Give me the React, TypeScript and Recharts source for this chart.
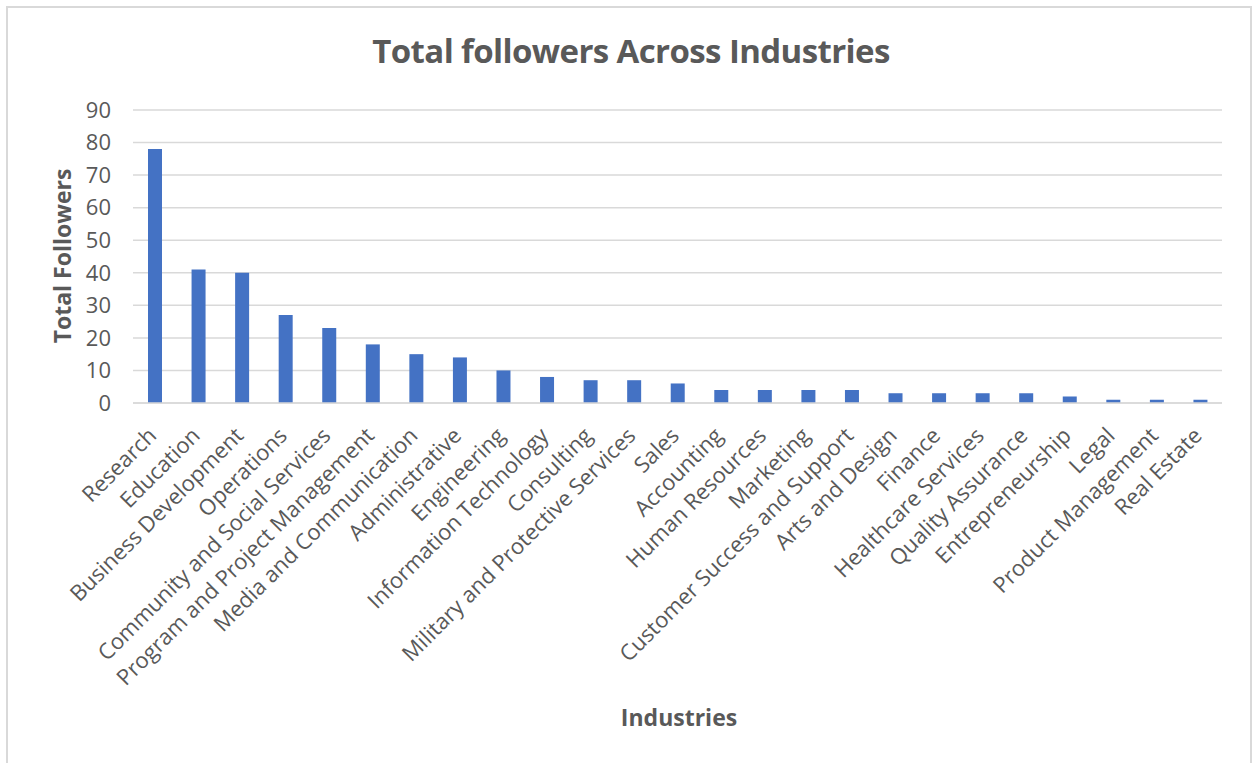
import { BarChart, Bar, XAxis, YAxis, CartesianGrid } from "recharts";

const industries = [
    "Research",
    "Education",
    "Business Development",
    "Operations",
    "Community and Social Services",
    "Program and Project Management",
    "Media and Communication",
    "Administrative",
    "Engineering",
    "Information Technology",
    "Consulting",
    "Military and Protective Services",
    "Sales",
    "Accounting",
    "Human Resources",
    "Marketing",
    "Customer Success and Support",
    "Arts and Design",
    "Finance",
    "Healthcare Services",
    "Quality Assurance",
    "Entrepreneurship",
    "Legal",
    "Product Management",
    "Real Estate",
];

const followers = [78, 41, 40, 27, 23, 18, 15, 14, 10, 8, 7, 7, 6, 4, 4, 4, 4, 3, 3, 3, 3, 2, 1, 1, 1];

const yTicks = [0, 10, 20, 30, 40, 50, 60, 70, 80, 90];

const data = industries.map((name, i) => ({ name, value: followers[i] }));

const FONT = "'Open Sans', sans-serif";
const GREY = "#595959";

function AngledTick(props: any) {
    const { x, y, payload } = props;
    const bx = x + 3;
    const by = y + 26;
    return (
        <text
            x={bx}
            y={by}
            transform={`rotate(-45, ${bx}, ${by})`}
            textAnchor="end"
            fill={GREY}
            fontSize={22}
            fontFamily={FONT}
        >
            {payload.value}
        </text>
    );
}

export default function App() {
    return (
        <div style={{ position: "absolute", left: 0, top: 0, width: 1254, height: 763, background: "#fff", overflow: "hidden" }}>
            <div
                style={{
                    position: "absolute",
                    left: 6,
                    top: 6,
                    width: 1242,
                    height: 820,
                    border: "2px solid #d9d9d9",
                }}
            />
            <div
                style={{
                    position: "absolute",
                    left: 0,
                    width: 1254,
                    top: 28,
                    textAlign: "center",
                    fontFamily: FONT,
                    fontWeight: 700,
                    fontSize: 33,
                    letterSpacing: -0.6,
                    color: GREY,
                    paddingLeft: 4,
                }}
            >
                Total followers Across Industries
            </div>
            <div
                style={{
                    position: "absolute",
                    left: 62,
                    top: 256,
                    transform: "translate(-50%, -50%) rotate(-90deg)",
                    fontFamily: FONT,
                    fontWeight: 700,
                    fontSize: 23,
                    color: GREY,
                    whiteSpace: "nowrap",
                }}
            >
                Total Followers
            </div>
            <div
                style={{
                    position: "absolute",
                    left: 679,
                    top: 717,
                    transform: "translate(-50%, -50%)",
                    fontFamily: FONT,
                    fontWeight: 700,
                    fontSize: 23,
                    color: GREY,
                    whiteSpace: "nowrap",
                }}
            >
                Industries
            </div>
            <div style={{ position: "absolute", left: 0, top: 0 }}>
                <BarChart
                    width={1254}
                    height={763}
                    data={data}
                    margin={{ top: 110, right: 32, bottom: 60, left: 0 }}
                    barSize={14}
                >
                    <CartesianGrid vertical={false} stroke="#d9d9d9" strokeWidth={1.5} />
                    <XAxis
                        dataKey="name"
                        interval={0}
                        height={300}
                        tickLine={false}
                        axisLine={{ stroke: "#d9d9d9", strokeWidth: 1.5 }}
                        tick={<AngledTick />}
                    />
                    <YAxis
                        width={133}
                        domain={[0, 90]}
                        ticks={yTicks}
                        tickLine={false}
                        axisLine={false}
                        tickSize={0}
                        tickMargin={22}
                        tick={{ fill: GREY, fontSize: 22, fontFamily: FONT }}
                    />
                    <Bar dataKey="value" fill="#4472C4" isAnimationActive={false} />
                </BarChart>
            </div>
        </div>
    );
}
